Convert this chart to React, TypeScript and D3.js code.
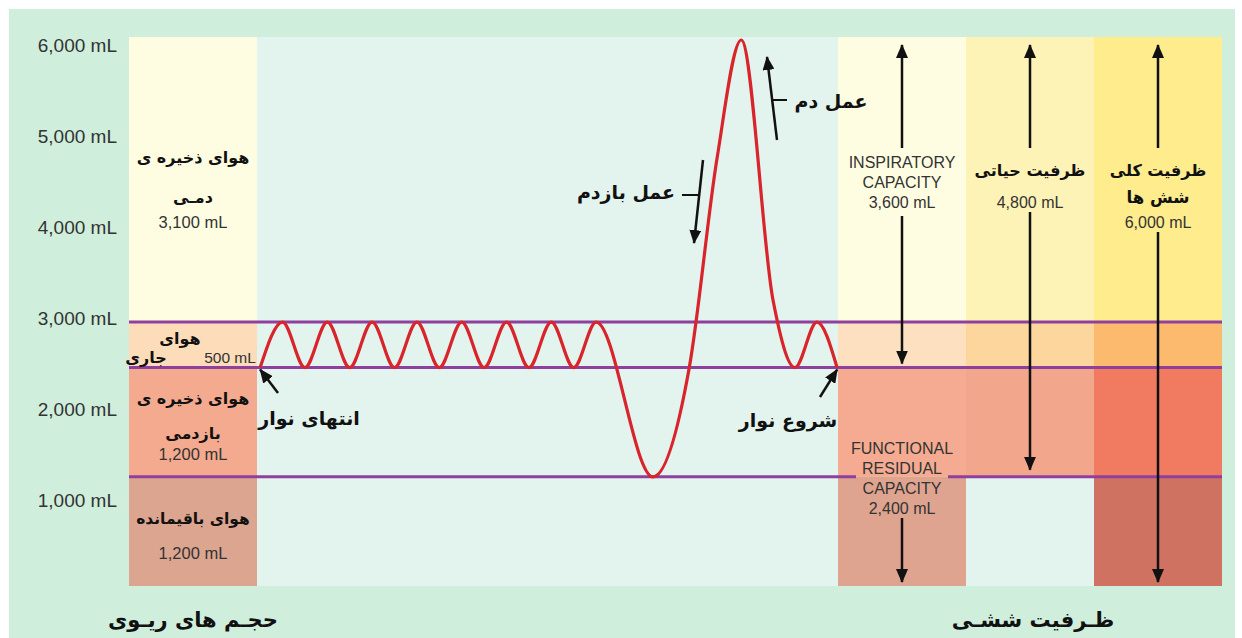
import React from 'react';
import * as d3 from 'd3';

// ---------- data ----------
const tickValues = [1000, 2000, 3000, 4000, 5000, 6000];
const tickLabels = ['1,000 mL', '2,000 mL', '3,000 mL', '4,000 mL', '5,000 mL', '6,000 mL'];

// lung volumes, bottom to top
const volumeNames = [
  ['هوای باقیمانده'],
  ['هوای ذخیره ی', 'بازدمی'],
  ['هوای', 'جاری'],
  ['هوای ذخیره ی', 'دمـی'],
];
const volumeValues = [1200, 1200, 500, 3100];
const volumeValueLabels = ['1,200 mL', '1,200 mL', '500 mL', '3,100 mL'];

// lung capacities
const capacityNames = [
  ['INSPIRATORY', 'CAPACITY'],
  ['FUNCTIONAL', 'RESIDUAL', 'CAPACITY'],
  ['ظرفیت حیاتی'],
  ['ظرفیت کلی', 'شش ها'],
];
const capacityValues = [3600, 2400, 4800, 6000];
const capacityValueLabels = ['3,600 mL', '2,400 mL', '4,800 mL', '6,000 mL'];

// spirogram tape (time in breath periods, volume in mL)
const tapeTime = [0, 0.5, 1, 1.5, 2, 2.5, 3, 3.5, 4, 4.5, 5, 5.5, 6, 6.5, 7, 7.5, 8.77, 9.58, 10.2, 10.74, 11.45, 11.94, 12.43, 12.88];
const tapeVolume = [2400, 2900, 2400, 2900, 2400, 2900, 2400, 2900, 2400, 2900, 2400, 2900, 2400, 2900, 2400, 2900, 1200, 2400, 4700, 6000, 3140, 2400, 2900, 2400];

const textLabels = {
  tapeEnd: 'انتهای نوار',
  tapeStart: 'شروع نوار',
  inhale: 'عمل دم',
  exhale: 'عمل بازدم',
  volumesTitle: 'حجـم های ریـوی',
  capacitiesTitle: 'ظـرفیت ششـی',
};

// ---------- styles ----------
const colors = {
  outer: '#d0eedc',
  plot: '#e3f3ee',
  purple: '#8f3f9e',
  red: '#d8242a',
  leftCol: ['#dca590', '#f4aa8f', '#fddcb9', '#fefde2'],
  capCols: [
    ['#dea48f', '#f4ab91', '#fde0bf', '#fffde1'],
    ['#e3f3ee', '#f2a68b', '#fdd69e', '#fef3b6'],
    ['#cf7262', '#f07b60', '#fbba6d', '#feec8d'],
  ],
};
const persianFont = '"DejaVu Sans", sans-serif';
const latinFont = '"Liberation Sans", Arial, sans-serif';

export default function App() {
  const W = 1242, H = 638;
  const plotLeft = 129, colW = 128;
  const midLeft = plotLeft + colW; // 257
  const midRight = 838;
  const plotRight = midRight + 3 * colW;
  const y = d3.scaleLinear().domain([0, 6000]).range([586, 40]);
  const x = d3.scaleLinear().domain([-0.07, 12.9]).range([midLeft, midRight]);
  const bounds = [0, ...d3.cumsum(volumeValues)]; // 0,1200,2400,2900,6000
  const capX = [midRight, midRight + colW, midRight + 2 * colW];
  const capCenter = capX.map((c) => c + colW / 2);
  const topY = (v: number) => (v >= 6000 ? y(v) - 3 : y(v));

  const line = d3.line<number>()
    .x((_, i) => x(tapeTime[i]))
    .y((v) => y(v))
    .curve(d3.curveMonotoneX);
  const tapePath = line(tapeVolume) || '';

  const pText = (t: string, cx: number, cy: number, size = 17, key?: string) => (
    <text key={key} x={cx} y={cy} textAnchor="middle" dominantBaseline="central" fontFamily={persianFont} fontWeight="bold" fontSize={size} fill="#111">{t}</text>
  );
  const lText = (t: string, cx: number, cy: number, size = 16, key?: string, anchor = 'middle') => (
    <text key={key} x={cx} y={cy} textAnchor={anchor as any} dominantBaseline="central" fontFamily={latinFont} fontSize={size} fill="#333">{t}</text>
  );

  const leftCx = plotLeft + colW / 2;
  const bandMid = (i: number) => y((bounds[i] + bounds[i + 1]) / 2);

  // purple boundary lines at volumes 1200, 2400, 2900
  const lineLevels = bounds.slice(1, 4);

  // capacity ranges
  const capRanges = [
    [bounds[2], bounds[4]], // IC
    [bounds[0], bounds[2]], // FRC
    [bounds[1], bounds[4]], // VC
    [bounds[0], bounds[4]], // TLC
  ];

  return (
    <svg width={W} height={H} style={{ position: 'absolute', left: 0, top: 0 }}>
      <defs>
        <marker id="ah" viewBox="0 0 14 12" refX={13} refY={6} markerWidth={14} markerHeight={12} markerUnits="userSpaceOnUse" orient="auto">
          <path d="M0,0 L14,6 L0,12 Z" fill="#111" />
        </marker>
      </defs>
      <rect x={0} y={0} width={W} height={H} fill="#fff" />
      <rect x={9} y={9} width={1226} height={H - 9} fill={colors.outer} />
      {/* middle plot background */}
      <rect x={midLeft} y={topY(6000)} width={midRight - midLeft} height={y(0) - topY(6000)} fill={colors.plot} />
      {/* left column bands */}
      {volumeValues.map((_, i) => (
        <rect key={'l' + i} x={plotLeft} y={topY(bounds[i + 1])} width={colW} height={y(bounds[i]) - topY(bounds[i + 1])} fill={colors.leftCol[i]} />
      ))}
      {/* capacity columns */}
      {colors.capCols.map((cols, c) =>
        volumeValues.map((_, i) => (
          <rect key={'c' + c + i} x={capX[c]} y={topY(bounds[i + 1])} width={colW} height={y(bounds[i]) - topY(bounds[i + 1])} fill={cols[i]} />
        ))
      )}

      {/* y-axis labels */}
      {tickValues.map((v, i) => lText(tickLabels[i], 117, y(v) + 5, 19, 't' + i, 'end'))}

      {/* purple lines */}
      {lineLevels.map((v, i) =>
        i === 0 ? (
          <g key={'pl' + i}>
            <line x1={plotLeft} x2={856} y1={y(v)} y2={y(v)} stroke={colors.purple} strokeWidth={3} />
            <line x1={948} x2={plotRight} y1={y(v)} y2={y(v)} stroke={colors.purple} strokeWidth={3} />
          </g>
        ) : (
          <line key={'pl' + i} x1={plotLeft} x2={plotRight} y1={y(v)} y2={y(v)} stroke={colors.purple} strokeWidth={3} />
        )
      )}

      {/* spirogram */}
      <path d={tapePath} fill="none" stroke={colors.red} strokeWidth={3.2} />

      {/* left column labels */}
      {/* IRV */}
      {pText(volumeNames[3][0], leftCx, bandMid(3) - 24, 16, 'irv0')}
      {pText(volumeNames[3][1], leftCx, bandMid(3) + 16, 16, 'irv1')}
      {lText(volumeValueLabels[3], leftCx, bandMid(3) + 41, 16.5, 'irv2')}
      {/* TV */}
      {pText(volumeNames[2][0], leftCx - 13, bandMid(2) - 6, 16, 'tv0')}
      {pText(volumeNames[2][1], leftCx - 47, bandMid(2) + 13, 16, 'tv1')}
      {lText(volumeValueLabels[2], leftCx + 37, bandMid(2) + 13, 15.5, 'tv2')}
      {/* ERV */}
      {pText(volumeNames[1][0], leftCx, bandMid(1) - 24, 16, 'erv0')}
      {pText(volumeNames[1][1], leftCx, bandMid(1) + 11, 16, 'erv1')}
      {lText(volumeValueLabels[1], leftCx, bandMid(1) + 32, 16.5, 'erv2')}
      {/* RV */}
      {pText(volumeNames[0][0], leftCx, bandMid(0) - 12, 15.5, 'rv0')}
      {lText(volumeValueLabels[0], leftCx, bandMid(0) + 22, 16.5, 'rv1')}

      {/* tape annotations */}
      <line x1={278} y1={393} x2={x(tapeTime[0])} y2={y(tapeVolume[0]) + 2} stroke="#111" strokeWidth={2.5} markerEnd="url(#ah)" />
      {pText(textLabels.tapeEnd, 309, 418, 19, 'te')}
      <line x1={820} y1={397} x2={x(tapeTime[tapeTime.length - 1])} y2={y(tapeVolume[tapeVolume.length - 1]) + 2} stroke="#111" strokeWidth={2.5} markerEnd="url(#ah)" />
      {pText(textLabels.tapeStart, 788, 420, 19, 'ts')}

      {/* inhale arrow */}
      <line x1={777} y1={140} x2={767} y2={57} stroke="#111" strokeWidth={2.5} markerEnd="url(#ah)" />
      <line x1={772} y1={100} x2={787} y2={100} stroke="#111" strokeWidth={2} />
      {pText(textLabels.inhale, 831, 101, 19, 'inh')}
      {/* exhale arrow */}
      <line x1={703} y1={160} x2={694} y2={243} stroke="#111" strokeWidth={2.5} markerEnd="url(#ah)" />
      <line x1={682} y1={195} x2={698} y2={195} stroke="#111" strokeWidth={2} />
      {pText(textLabels.exhale, 626, 192, 19, 'exh')}

      {/* IC column */}
      <line x1={capCenter[0]} y1={148} x2={capCenter[0]} y2={y(capRanges[0][1]) + 5} stroke="#111" strokeWidth={2.5} markerEnd="url(#ah)" />
      {lText(capacityNames[0][0], capCenter[0], 162, 16, 'ic0')}
      {lText(capacityNames[0][1], capCenter[0], 182, 16, 'ic1')}
      {lText(capacityValueLabels[0], capCenter[0], 202, 16, 'ic2')}
      <line x1={capCenter[0]} y1={216} x2={capCenter[0]} y2={y(capRanges[0][0]) - 4} stroke="#111" strokeWidth={2.5} markerEnd="url(#ah)" />
      {/* FRC */}
      {lText(capacityNames[1][0], capCenter[0], 448, 16, 'frc0')}
      {lText(capacityNames[1][1], capCenter[0], 468, 16, 'frc1')}
      {lText(capacityNames[1][2], capCenter[0], 488, 16, 'frc2')}
      {lText(capacityValueLabels[1], capCenter[0], 508, 16, 'frc3')}
      <line x1={capCenter[0]} y1={518} x2={capCenter[0]} y2={y(capRanges[1][0]) - 4} stroke="#111" strokeWidth={2.5} markerEnd="url(#ah)" />
      {/* VC */}
      <line x1={capCenter[1]} y1={148} x2={capCenter[1]} y2={y(capRanges[2][1]) + 5} stroke="#111" strokeWidth={2.5} markerEnd="url(#ah)" />
      {pText(capacityNames[2][0], capCenter[1], 170, 16, 'vc0')}
      {lText(capacityValueLabels[2], capCenter[1], 202, 16, 'vc1')}
      <line x1={capCenter[1]} y1={212} x2={capCenter[1]} y2={y(capRanges[2][0]) - 7} stroke="#111" strokeWidth={2.5} markerEnd="url(#ah)" />
      {/* TLC */}
      <line x1={capCenter[2]} y1={148} x2={capCenter[2]} y2={y(capRanges[3][1]) + 5} stroke="#111" strokeWidth={2.5} markerEnd="url(#ah)" />
      {pText(capacityNames[3][0], capCenter[2], 170, 16, 'tlc0')}
      {pText(capacityNames[3][1], capCenter[2], 197, 16.5, 'tlc1')}
      {lText(capacityValueLabels[3], capCenter[2], 222, 16, 'tlc2')}
      <line x1={capCenter[2]} y1={232} x2={capCenter[2]} y2={y(capRanges[3][0]) - 4} stroke="#111" strokeWidth={2.5} markerEnd="url(#ah)" />

      {/* bottom titles */}
      {pText(textLabels.volumesTitle, 193, 620, 21, 'bt0')}
      {pText(textLabels.capacitiesTitle, 1033, 620, 21, 'bt1')}
    </svg>
  );
}
